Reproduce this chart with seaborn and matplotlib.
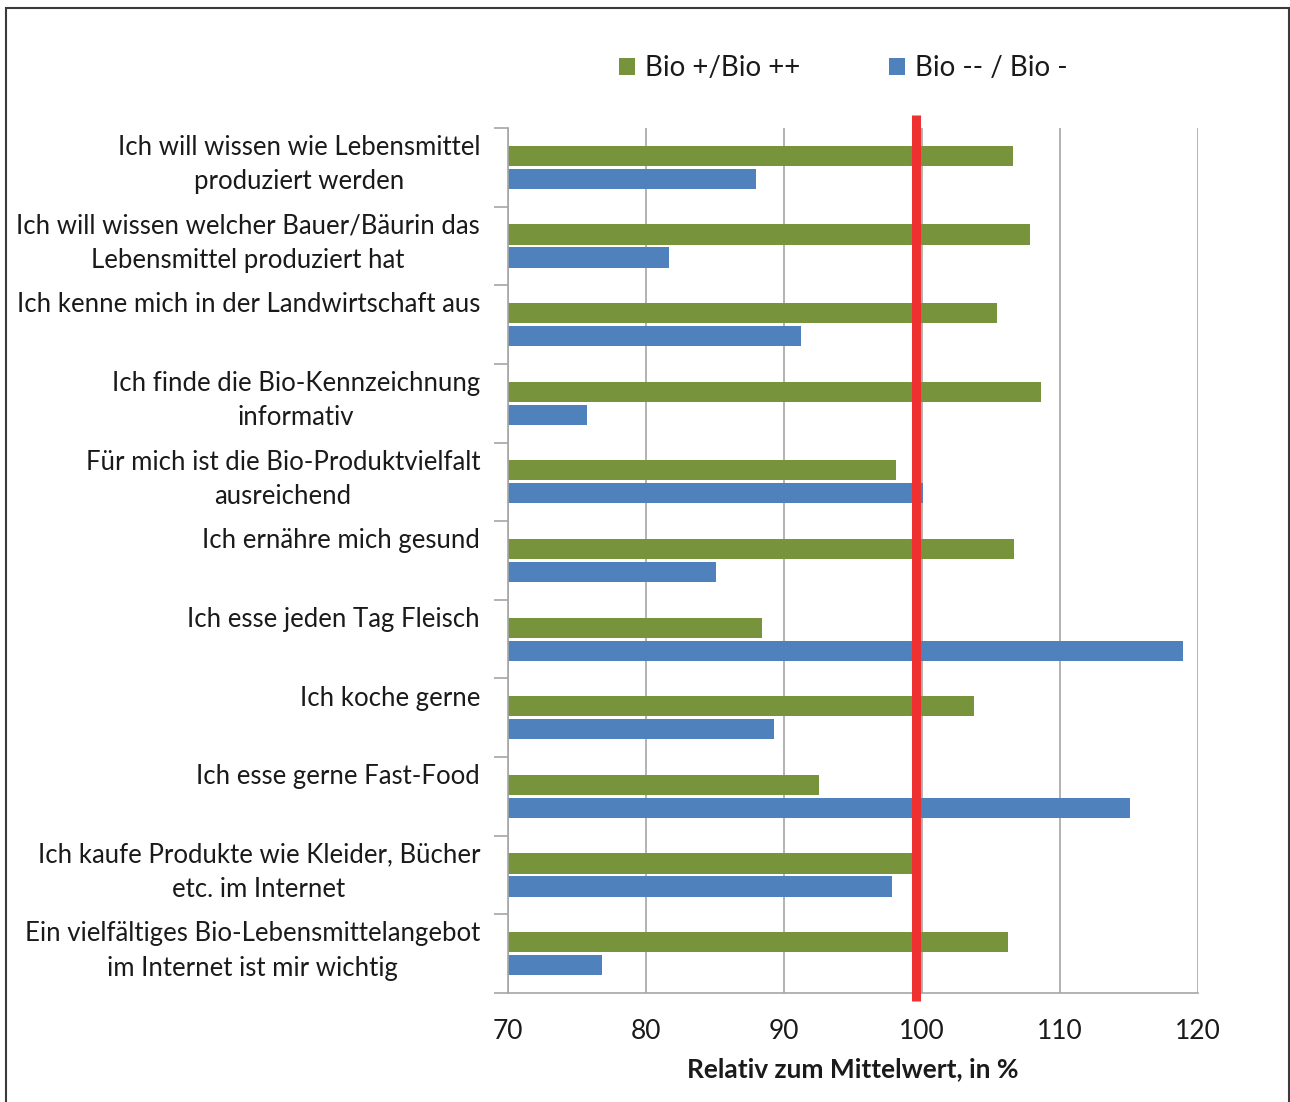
import matplotlib
matplotlib.use("Agg")
import matplotlib.pyplot as plt
from matplotlib.patches import Rectangle
import seaborn as sns
import pandas as pd
import numpy as np

statements = [
    "Ich will wissen wie Lebensmittel\nproduziert werden",
    "Ich will wissen welcher Bauer/Bäurin das\nLebensmittel produziert hat",
    "Ich kenne mich in der Landwirtschaft aus",
    "Ich finde die Bio-Kennzeichnung\ninformativ",
    "Für mich ist die Bio-Produktvielfalt\nausreichend",
    "Ich ernähre mich gesund",
    "Ich esse jeden Tag Fleisch",
    "Ich koche gerne",
    "Ich esse gerne Fast-Food",
    "Ich kaufe Produkte wie Kleider, Bücher\netc. im Internet",
    "Ein vielfältiges Bio-Lebensmittelangebot\nim Internet ist mir wichtig",
]
bio_plus = [106.6, 107.8, 105.4, 108.6, 98.1, 106.7, 88.4, 103.8, 92.5, 99.3, 106.2]
bio_minus = [88.0, 81.7, 91.2, 75.7, 100.1, 85.1, 118.9, 89.3, 115.1, 97.8, 76.8]
series_names = ["Bio +/Bio ++", "Bio -- / Bio -"]
mean_line = 99.6
x_ticks = [70, 80, 90, 100, 110, 120]

green = "#77933C"
blue = "#4F81BD"
red = "#EE3030"
grid_grey = "#A6A6A6"
text_col = "#1A1A1A"

df = pd.DataFrame({
    "statement": statements * 2,
    "value": bio_plus + bio_minus,
    "group": [series_names[0]] * len(statements) + [series_names[1]] * len(statements),
})

sns.set_theme(style="white")
plt.rcParams["font.family"] = ["Lato", "DejaVu Sans"]

fig = plt.figure(figsize=(12.9, 11.02), dpi=100)
ax = fig.add_axes([508 / 1290, 1 - 993 / 1102, 690 / 1290, 865 / 1102])

sns.barplot(data=df, y="statement", x="value", hue="group", orient="h",
            palette=[green, blue], width=0.585, gap=0.12, ax=ax,
            legend=True, saturation=1, edgecolor="none")

ax.set_xlim(70, 120)
ax.set_ylim(10.5, -0.5)
ax.set_xticks(x_ticks)
ax.set_xticklabels([str(t) for t in x_ticks], fontsize=19, color=text_col)
ax.tick_params(axis="x", length=10, width=1.2, color=grid_grey, pad=9, direction="out")
ax.set_xlabel("Relativ zum Mittelwert, in %", fontsize=19, fontweight="bold",
              color=text_col, labelpad=9)
ax.set_ylabel("")

# category boundary ticks on the y axis
ax.set_yticks([])
ax.set_yticks(np.arange(-0.5, len(statements)), minor=True)
ax.tick_params(axis="y", which="minor", length=10, width=1.2, color=grid_grey, left=True)

ax.xaxis.grid(True, color=grid_grey, linewidth=1.2)
ax.set_axisbelow(True)
for side in ["top", "right"]:
    ax.spines[side].set_visible(False)
for side in ["left", "bottom"]:
    ax.spines[side].set_color(grid_grey)
    ax.spines[side].set_linewidth(1.2)

# statement labels, right aligned, lines centred
trans = matplotlib.transforms.blended_transform_factory(ax.transAxes, ax.transData)
for i, s in enumerate(statements):
    ax.text(-28 / 690, i - 0.41, s, transform=trans, ha="right", va="top",
            multialignment="center", fontsize=18.5, color=text_col, linespacing=1.47)

# reference line at the mean
ax.plot([mean_line, mean_line], [-0.67, 10.6], color=red, linewidth=6.5,
        solid_capstyle="butt", clip_on=False, zorder=5)

leg = ax.legend(loc="center", bbox_to_anchor=(843 / 1290, 1 - 68 / 1102),
                bbox_transform=fig.transFigure, ncol=2, frameon=False,
                fontsize=20, handlelength=0.58, handleheight=0.58,
                handletextpad=0.35, columnspacing=3.2)
for t in leg.get_texts():
    t.set_color(text_col)

# outer frame
fig.patches.append(Rectangle((6 / 1290, -0.05), 1283 / 1290, 1.05 - 8 / 1102,
                             transform=fig.transFigure, fill=False,
                             edgecolor="#3A3A3A", linewidth=1.5))

fig.savefig("out.png", dpi=100, facecolor="white")
